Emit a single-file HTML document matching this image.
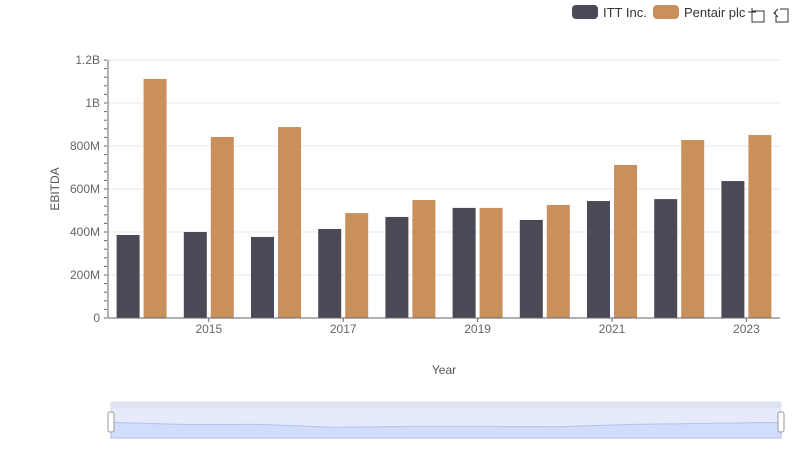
<!DOCTYPE html>
<html><head><meta charset="utf-8"><style>
body{margin:0;background:#fff;font-family:"Liberation Sans",sans-serif}
svg text{font-family:"Liberation Sans",sans-serif}
</style></head><body>
<svg id="c" width="800" height="461">
<g>
<rect x="572" y="5" width="26" height="14" rx="4" fill="#4a4a56"/>
<text x="603" y="17" font-size="13" fill="#333">ITT Inc.</text>
<rect x="653" y="5" width="26" height="14" rx="4" fill="#c9905c"/>
<text x="684" y="17" font-size="13" fill="#333">Pentair plc</text>
<g stroke="#333" fill="none" stroke-width="1"><path d="M748 12h8M752 8v8M752 11h12v11h-12z"/></g>
<g stroke="#333" fill="none" stroke-width="1"><path d="M778 9l-4 4 4 4M774 13h2M776 9v0M780 9h8v13h-12v-6"/></g>
</g>
<text transform="translate(59,189) rotate(-90)" text-anchor="middle" font-size="12" fill="#555">EBITDA</text>
<text x="444" y="374" text-anchor="middle" font-size="12" fill="#555">Year</text>
<g id="grid"></g><g id="bars"></g><g id="axes"></g>
<g>
<rect x="111" y="402" width="670" height="36" fill="#f4f6fb" stroke="#dde3ee"/>
<rect x="111" y="402" width="670" height="6" fill="#dde3ef"/>
<path id="mini" fill="#d6e0fb" stroke="#a8b8e6" stroke-width="1"/>
<rect x="111" y="408" width="670" height="30" fill="rgba(200,215,250,0.35)"/>
<rect x="108" y="412" width="6" height="20" rx="2" fill="#fff" stroke="#999"/>
<rect x="778" y="412" width="6" height="20" rx="2" fill="#fff" stroke="#999"/>
</g>
</svg>
<script>
const years=[2014,2015,2016,2017,2018,2019,2020,2021,2022,2023];
const ittValues=[386,400,377,414,470,512,456,544,553,637];
const pentairValues=[1112,842,888,488,549,512,526,712,828,851];
const yTickLabels=["0","200M","400M","600M","800M","1B","1.2B"];
const yTickValues=[0,200,400,600,800,1000,1200];
const NS="http://www.w3.org/2000/svg";
const X0=108,X1=780,Y0=318,Y1=60,MAX=1200;
const step=(X1-X0)/years.length;
const y=v=>Y0-(v/MAX)*(Y0-Y1);
const xc=i=>X0+step*(i+0.5);
function mk(t,a,p){const e=document.createElementNS(NS,t);for(const k in a)e.setAttribute(k,a[k]);p.appendChild(e);return e;}
const grid=document.getElementById('grid'),bars=document.getElementById('bars'),axes=document.getElementById('axes');
yTickValues.forEach((v,i)=>{
 if(v>0){const l=mk('line',{x1:X0,x2:X1,y1:y(v),y2:y(v),stroke:'#e3e7f0'},grid);
 
 }
 const t=mk('text',{x:100,y:y(v)+4,'text-anchor':'end','font-size':12,fill:'#666'},axes);t.textContent=yTickLabels[i];
 
 
});
for(let v=0;v<=MAX;v+=40){mk('line',{x1:104,x2:107,y1:y(v),y2:y(v),stroke:'#666'},axes);}
mk('line',{x1:X0,x2:X0,y1:Y1,y2:Y0,stroke:'#666'},axes);
mk('line',{x1:X0,x2:X1,y1:Y0,y2:Y0,stroke:'#666'},axes);
const bw=23;
years.forEach((yr,i)=>{
 const c=xc(i);
 const a=mk('rect',{x:c-bw-2,y:y(ittValues[i]),width:bw,height:Y0-y(ittValues[i]),fill:'#4a4a56'},bars);
 
 
 const b=mk('rect',{x:c+2,y:y(pentairValues[i]),width:bw,height:Y0-y(pentairValues[i]),fill:'#c9905c'},bars);
 
 
 if(yr%2===1){const t=mk('text',{x:c,y:333,'text-anchor':'middle','font-size':12,fill:'#666'},axes);t.textContent=yr;
 
 
 mk('line',{x1:c,x2:c,y1:Y0,y2:Y0+4,stroke:'#666'},axes);}
});
let d='M111 438';
years.forEach((yr,i)=>{const px=111+670*i/(years.length-1);const tot=ittValues[i]+pentairValues[i];d+=' L'+px+' '+(438-tot/1600*30*0.45-3);});
d+=' L781 438Z';document.getElementById('mini').setAttribute('d',d);
</script>
</body></html>
